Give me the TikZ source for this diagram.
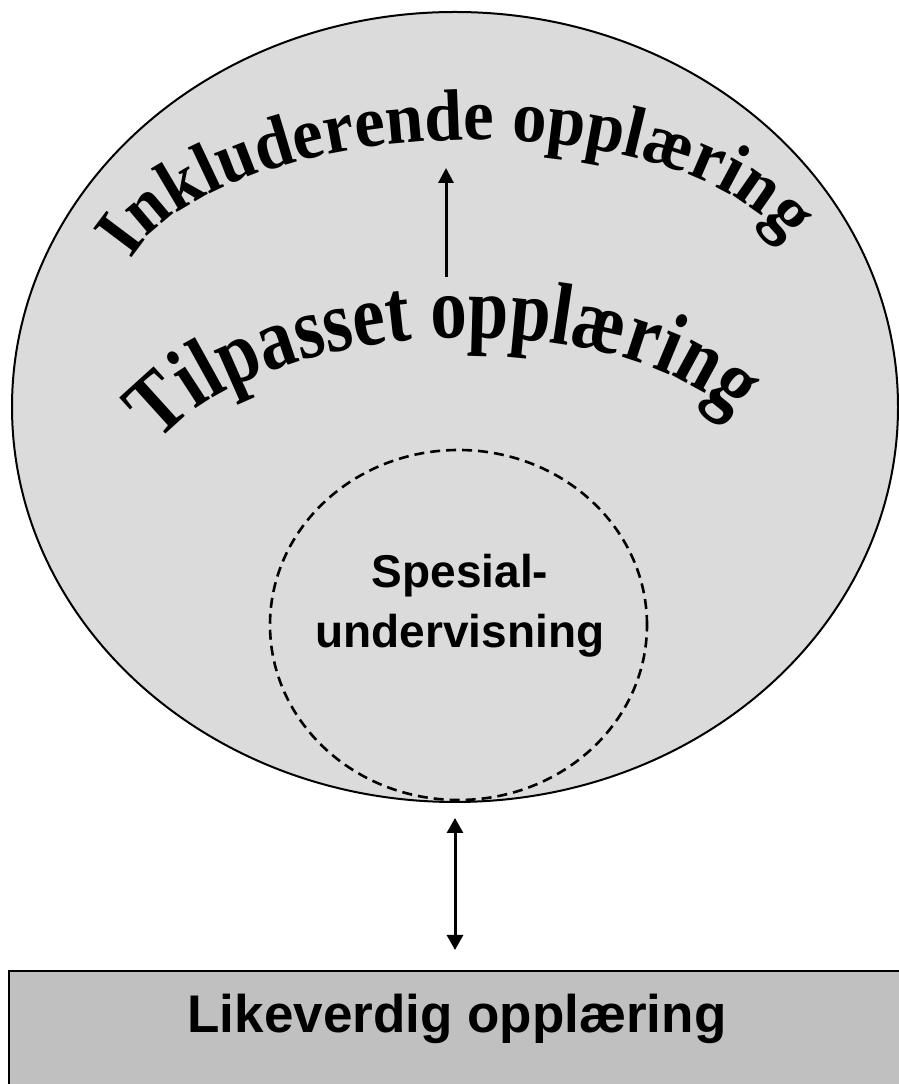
\documentclass[tikz,border=0pt]{standalone}
\usepackage{fontspec}
\setmainfont{Liberation Serif}
\newfontfamily\archfontA[FakeStretch=0.94]{Liberation Serif Bold}
\newfontfamily\archfontB[FakeStretch=0.83]{Liberation Serif Bold}
\newfontfamily\labelfont{Liberation Sans}
\usetikzlibrary{decorations.text,arrows.meta,shapes.geometric}

\definecolor{dotfill}{RGB}{219,219,219}
\definecolor{boxfill}{RGB}{192,192,192}

\newcommand\archA{\archfontA\fontsize{73}{73}\selectfont}
\newcommand\archB{\archfontB\fontsize{88}{88}\selectfont}

\tikzset{
  outerring/.style={ellipse, draw=black, line width=2pt, fill=dotfill,
    inner sep=0pt, outer sep=0pt, minimum width=886pt, minimum height=790pt},
  innerring/.style={ellipse, draw=black, line width=2.6pt,
    dash pattern=on 10pt off 6pt, inner sep=0pt, outer sep=0pt,
    minimum width=377pt, minimum height=350pt},
  basebox/.style={rectangle, draw=black, line width=2pt, fill=boxfill,
    inner sep=0pt, outer sep=0pt, minimum width=896pt, minimum height=150pt},
  arrowline/.style={line width=3pt},
  archtext/.style={decorate, decoration={text along path, text align=center,
    text format delimiters={|}{|}, text={#1}}},
}

\begin{document}
\begin{tikzpicture}[x=1pt,y=1pt]
  \clip (0,0) rectangle (899,1084);

  % large ellipse and the dashed inner ring
  \node[outerring] (outer) at (455,677) {};
  \node[innerring] (inner) at (458.5,459) {};

  % arched headings, each set along the upper part of an ellipse
  \path[archtext={|\archA|Inkluderende opplæring},
        rotate around={1.5:(459,793.3)}]
    (459,793.3) ++(166.7:339.1 and 150.7)
    arc[start angle=166.7, end angle=13.3, x radius=339.1, y radius=150.7];
  \path[archtext={|\archB|Tilpasset opplæring},
        rotate around={2.5:(449,592.7)}]
    (449,592.7) ++(157.7:313.5 and 153.3)
    arc[start angle=157.7, end angle=22.3, x radius=313.5, y radius=153.3];

  % arrow between the two headings
  \coordinate (upfrom) at (446,807);
  \coordinate (upto) at (446,916);
  \draw[arrowline, -{Triangle[width=15pt,length=15pt]}] (upfrom) -- (upto);

  % special education label
  \node[align=center, font=\labelfont\bfseries\fontsize{46}{60}\selectfont]
    (spes) at (460,478) {Spesial-\\undervisning};

  % bottom box
  \node[basebox] (box) at (457,38) {};
  \node[anchor=base, font=\labelfont\bfseries\fontsize{53}{53}\selectfont]
    (boxlabel) at (457,51) {Likeverdig opplæring};

  % double arrow between ellipse and box
  \coordinate (dtop) at ([yshift=-16pt]outer.south);
  \coordinate (dbot) at ([yshift=21pt]box.north);
  \draw[arrowline, {Triangle[width=16pt,length=15pt]}-{Triangle[width=16pt,length=15pt]}]
    (dtop) -- (dtop |- dbot);
\end{tikzpicture}
\end{document}
